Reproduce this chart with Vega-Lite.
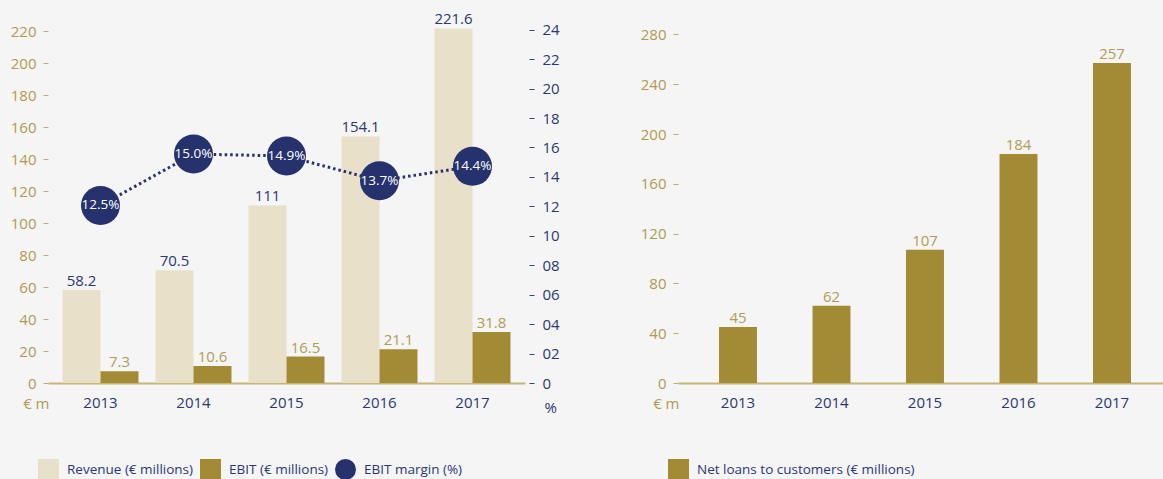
{
  "$schema": "https://vega.github.io/schema/vega-lite/v6.json",
  "background": "#f5f5f5",
  "padding": {"left": 10, "top": 12, "right": 0, "bottom": 0},
  "bounds": "flush",
  "spacing": 153,
  "resolve": {"scale": {"color": "independent"}, "legend": {"color": "independent"}},
  "config": {
    "view": {"stroke": null},
    "font": "Open Sans",
    "axis": {"labelFont": "Open Sans", "titleFont": "Open Sans", "labelFontSize": 15, "titleFontSize": 15, "titleFontWeight": "normal", "grid": false},
    "legend": {"labelFont": "Open Sans", "labelFontSize": 13.5, "labelColor": "#2b3775", "labelLimit": 500, "symbolSize": 441, "labelOffset": 8, "columnPadding": 6, "direction": "horizontal", "symbolStrokeWidth": 0, "symbolOpacity": 1, "title": null}
  },
  "datasets": {
    "fin": [
      {"year": "2013", "series": "Revenue (€ millions)", "value": 58.2},
      {"year": "2014", "series": "Revenue (€ millions)", "value": 70.5},
      {"year": "2015", "series": "Revenue (€ millions)", "value": 111},
      {"year": "2016", "series": "Revenue (€ millions)", "value": 154.1},
      {"year": "2017", "series": "Revenue (€ millions)", "value": 221.6},
      {"year": "2013", "series": "EBIT (€ millions)", "value": 7.3},
      {"year": "2014", "series": "EBIT (€ millions)", "value": 10.6},
      {"year": "2015", "series": "EBIT (€ millions)", "value": 16.5},
      {"year": "2016", "series": "EBIT (€ millions)", "value": 21.1},
      {"year": "2017", "series": "EBIT (€ millions)", "value": 31.8}
    ],
    "margin": [
      {"year": "2013", "margin": 0.125},
      {"year": "2014", "margin": 0.150},
      {"year": "2015", "margin": 0.149},
      {"year": "2016", "margin": 0.137},
      {"year": "2017", "margin": 0.144}
    ],
    "loans": [
      {"year": "2013", "series": "Net loans to customers (€ millions)", "value": 45},
      {"year": "2014", "series": "Net loans to customers (€ millions)", "value": 62},
      {"year": "2015", "series": "Net loans to customers (€ millions)", "value": 107},
      {"year": "2016", "series": "Net loans to customers (€ millions)", "value": 184},
      {"year": "2017", "series": "Net loans to customers (€ millions)", "value": 257}
    ]
  },
  "hconcat": [
    {
      "width": 477,
      "height": 368,
      "encoding": {
        "x": {
          "field": "year", "type": "nominal",
          "scale": {"paddingInner": 0.183, "paddingOuter": 0.156},
          "axis": {"title": null, "labelAngle": 0, "labelColor": "#2b3775", "ticks": false, "domainColor": "#c8b679", "domainWidth": 2, "labelPadding": 12}
        }
      },
      "layer": [
        {
          "data": {"name": "fin"},
          "encoding": {
            "y": {
              "field": "value", "type": "quantitative",
              "scale": {"domain": [0, 230], "nice": false},
              "axis": {"orient": "left", "values": [0, 20, 40, 60, 80, 100, 120, 140, 160, 180, 200, 220], "tickColor": "#c2ad68", "tickSize": 5, "labelColor": "#b09a50", "labelPadding": 7, "domain": false, "title": "€ m", "titleAngle": 0, "titleAlign": "right", "titleBaseline": "middle", "titleX": 1, "titleY": 388, "titleColor": "#b09a50"}
            },
            "xOffset": {"field": "series", "type": "nominal", "sort": ["Revenue (€ millions)", "EBIT (€ millions)"], "scale": {"paddingInner": 0, "paddingOuter": 0}}
          },
          "layer": [
            {
              "mark": {"type": "bar"},
              "encoding": {
                "color": {
                  "field": "series", "type": "nominal",
                  "scale": {"domain": ["Revenue (€ millions)", "EBIT (€ millions)", "EBIT margin (%)"], "range": ["#e8e0c9", "#a38b35", "#26326e"]},
                  "legend": {"orient": "none", "legendX": -10, "legendY": 444, "columnPadding": 6,
                    "encode": {"symbols": {"update": {"shape": {"signal": "datum.label === 'EBIT margin (%)' ? 'circle' : 'square'"}}}}}
                }
              }
            },
            {
              "mark": {"type": "text", "dy": -4, "baseline": "alphabetic", "fontSize": 15, "font": "Open Sans"},
              "encoding": {
                "text": {"field": "value", "type": "quantitative", "format": ""},
                "color": {"condition": {"test": "datum.series === 'Revenue (€ millions)'", "value": "#2b3775"}, "value": "#b39c52"}
              }
            }
          ]
        },
        {
          "data": {"name": "margin"},
          "encoding": {
            "y": {"field": "margin", "type": "quantitative", "scale": {"domain": [0.0388, 0.2175], "nice": false, "zero": false}, "axis": null}
          },
          "layer": [
            {
              "mark": {"type": "line", "color": "#26326e", "strokeWidth": 3, "strokeDash": [2.5, 3]}
            },
            {
              "mark": {"type": "point", "filled": true, "size": 1520, "color": "#26326e", "opacity": 1}
            },
            {
              "mark": {"type": "text", "color": "white", "fontSize": 13.5, "font": "Open Sans", "baseline": "middle", "align": "center"},
              "encoding": {"text": {"field": "margin", "type": "quantitative", "format": ".1%"}}
            }
          ]
        },
        {
          "data": {"name": "margin"},
          "mark": {"type": "point", "opacity": 0},
          "encoding": {
            "y": {
              "field": "margin", "type": "quantitative",
              "scale": {"domain": [0, 0.25], "nice": false},
              "axis": {"orient": "right", "values": [0, 0.02, 0.04, 0.06, 0.08, 0.1, 0.12, 0.14, 0.16, 0.18, 0.2, 0.22, 0.24], "labelExpr": "datum.value === 0 ? '0' : format(datum.value * 100, '02.0f')", "tickColor": "#3a4580", "tickSize": 5, "labelColor": "#2b3775", "labelPadding": 8, "domain": false, "offset": 4, "title": "%", "titleAngle": 0, "titleAlign": "left", "titleBaseline": "middle", "titleX": 15, "titleY": 392, "titleColor": "#2b3775"}
            }
          }
        }
      ],
      "resolve": {"scale": {"y": "independent"}}
    },
    {
      "width": 486,
      "height": 368,
      "data": {"name": "loans"},
      "encoding": {
        "x": {
          "field": "year", "type": "nominal",
          "scale": {"paddingInner": 0.594, "paddingOuter": 0.396, "align": 0.554},
          "axis": {"title": null, "labelAngle": 0, "labelColor": "#2b3775", "ticks": false, "domainColor": "#c8b679", "domainWidth": 2, "labelPadding": 12}
        },
        "y": {
          "field": "value", "type": "quantitative",
          "scale": {"domain": [0, 295.6], "nice": false},
          "axis": {"orient": "left", "values": [0, 40, 80, 120, 160, 200, 240, 280], "tickColor": "#c2ad68", "tickSize": 5, "labelColor": "#b09a50", "labelPadding": 7, "domain": false, "title": "€ m", "titleAngle": 0, "titleAlign": "right", "titleBaseline": "middle", "titleX": 1, "titleY": 388, "titleColor": "#b09a50"}
        }
      },
      "layer": [
        {
          "mark": {"type": "bar"},
          "encoding": {
            "color": {
              "field": "series", "type": "nominal",
              "scale": {"domain": ["Net loans to customers (€ millions)"], "range": ["#a38b35"]},
              "legend": {"orient": "none", "legendX": -10, "legendY": 444}
            }
          }
        },
        {
          "mark": {"type": "text", "dy": -4, "baseline": "alphabetic", "fontSize": 15, "font": "Open Sans", "color": "#b39c52"},
          "encoding": {"text": {"field": "value", "type": "quantitative", "format": ""}}
        }
      ]
    }
  ]
}
